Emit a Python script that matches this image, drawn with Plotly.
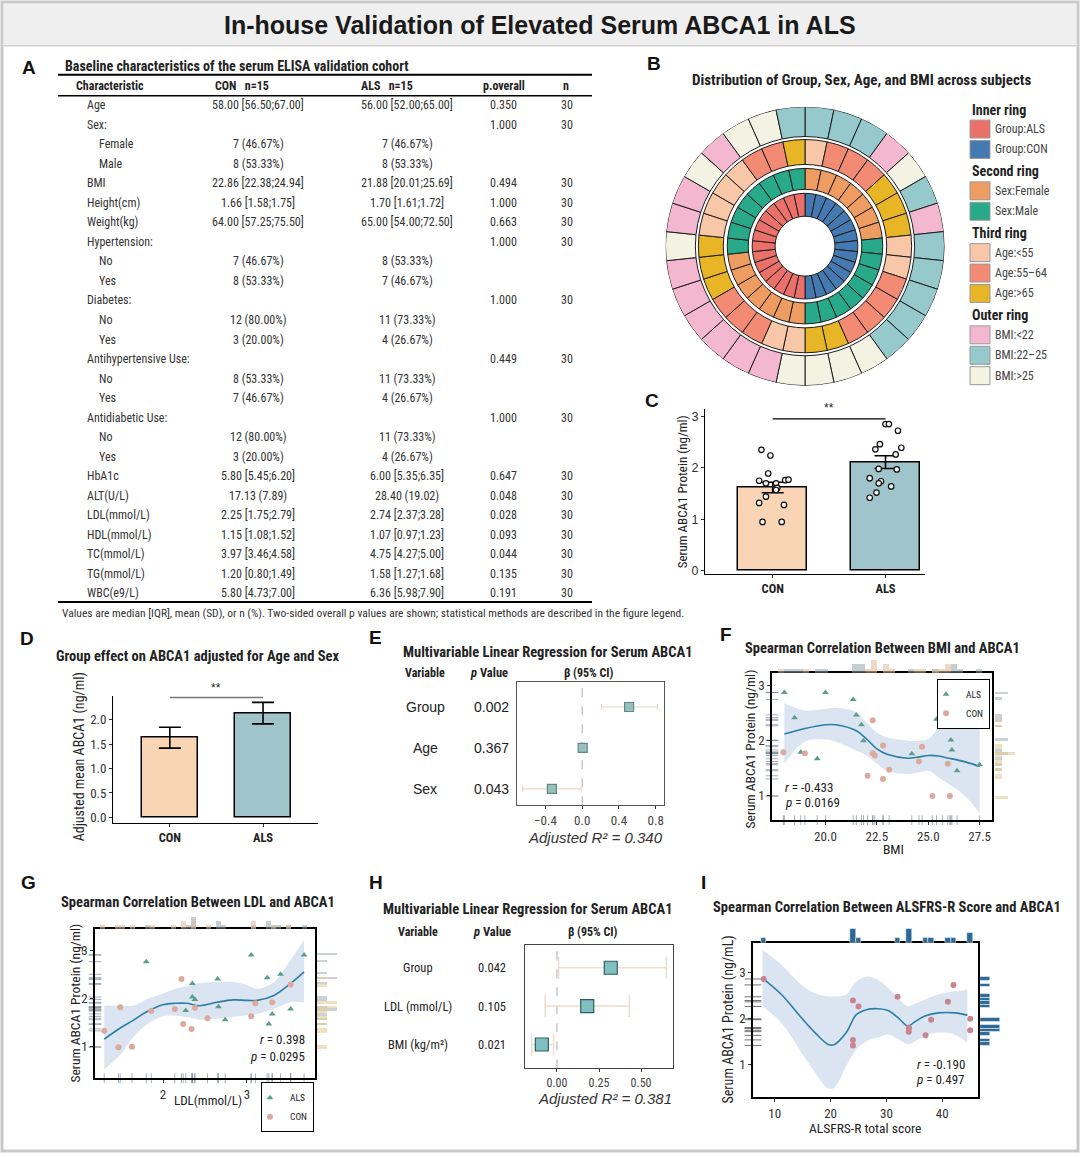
import numpy as np
import plotly.graph_objects as go

W, H = 1080, 1157
def px(x): return x / W
def py(y): return 1 - y / H

SANS = "Liberation Sans, Arial, Helvetica, sans-serif"
NARROW = "Liberation Sans Narrow, Arial Narrow, Roboto Condensed, Liberation Sans, sans-serif"

# ---------------- Panel A: baseline table ----------------
tbl_characteristic = ["Age", "Sex:", "Female", "Male", "BMI", "Height(cm)", "Weight(kg)", "Hypertension:",
                      "No", "Yes", "Diabetes:", "No", "Yes", "Antihypertensive Use:", "No", "Yes",
                      "Antidiabetic Use:", "No", "Yes", "HbA1c", "ALT(U/L)", "LDL(mmol/L)", "HDL(mmol/L)",
                      "TC(mmol/L)", "TG(mmol/L)", "WBC(e9/L)"]
tbl_con = ["58.00 [56.50;67.00]", "", "7 (46.67%)", "8 (53.33%)", "22.86 [22.38;24.94]", "1.66 [1.58;1.75]",
           "64.00 [57.25;75.50]", "", "7 (46.67%)", "8 (53.33%)", "", "12 (80.00%)", "3 (20.00%)", "",
           "8 (53.33%)", "7 (46.67%)", "", "12 (80.00%)", "3 (20.00%)", "5.80 [5.45;6.20]", "17.13 (7.89)",
           "2.25 [1.75;2.79]", "1.15 [1.08;1.52]", "3.97 [3.46;4.58]", "1.20 [0.80;1.49]", "5.80 [4.73;7.00]"]
tbl_als = ["56.00 [52.00;65.00]", "", "7 (46.67%)", "8 (53.33%)", "21.88 [20.01;25.69]", "1.70 [1.61;1.72]",
           "65.00 [54.00;72.50]", "", "8 (53.33%)", "7 (46.67%)", "", "11 (73.33%)", "4 (26.67%)", "",
           "11 (73.33%)", "4 (26.67%)", "", "11 (73.33%)", "4 (26.67%)", "6.00 [5.35;6.35]", "28.40 (19.02)",
           "2.74 [2.37;3.28]", "1.07 [0.97;1.23]", "4.75 [4.27;5.00]", "1.58 [1.27;1.68]", "6.36 [5.98;7.90]"]
tbl_p = ["0.350", "1.000", "", "", "0.494", "1.000", "0.663", "1.000", "", "", "1.000", "", "", "0.449", "", "",
         "1.000", "", "", "0.647", "0.048", "0.028", "0.093", "0.044", "0.135", "0.191"]
tbl_n = ["30" if p else "" for p in tbl_p]
tbl_header = ["Characteristic", "CON\u00a0\u00a0\u00a0n=15", "ALS\u00a0\u00a0\u00a0n=15", "p.overall", "n"]
sub_levels = {"Female", "Male", "No", "Yes"}

# ---------------- Panel B: ring chart ----------------
ring_group = ["CON"] * 15 + ["ALS"] * 15
ring_sex = ["Female"] * 7 + ["Male"] * 8 + ["Female"] * 7 + ["Male"] * 8
ring_age = ["<55", "55–64", "55–64", "55–64", ">65", ">65", ">65", "<55", "<55", "55–64", "55–64", "55–64",
            "55–64", ">65", ">65",
            "<55", "<55", "55–64", "55–64", "55–64", ">65", ">65", ">65", "<55", "<55", "<55", "<55",
            "55–64", "55–64", ">65"]
ring_bmi = ["22–25", "22–25", "22–25", "<22", ">25", "22–25", "<22", "22–25", "22–25", "22–25", "22–25",
            "22–25", ">25", ">25", ">25",
            ">25", "<22", "<22", "<22", "<22", "<22", "<22", ">25", "<22", "<22", ">25", "<22", ">25", ">25",
            "22–25"]

# ---------------- Panel C ----------------
c_con = [2.35, 2.24, 1.89, 1.75, 1.70, 1.76, 1.77, 1.70, 1.61, 1.44, 1.32, 1.28, 0.95, 0.95, 1.57]
c_als = [2.85, 2.85, 2.72, 2.46, 2.36, 2.39, 2.26, 1.98, 1.97, 1.80, 1.74, 1.70, 1.64, 1.52, 1.42]
c_jitter_con = [-0.10, -0.02, -0.04, -0.12, -0.06, 0.11, 0.14, 0.03, 0.04, -0.06, -0.12, 0.10, -0.09, 0.08, 0.03]
c_jitter_als = [0.00, 0.03, 0.11, -0.05, -0.09, 0.14, 0.09, -0.06, 0.10, -0.14, -0.04, -0.06, 0.05, -0.08, -0.14]

# ---------------- Panel D ----------------
d_groups = ["CON", "ALS"]
d_adj_mean = [1.64, 2.14]
d_ci_low = [1.42, 1.92]
d_ci_high = [1.85, 2.36]

# ---------------- Panel E ----------------
e_vars = ["Group", "Age", "Sex"]
e_p = ["0.002", "0.367", "0.043"]
e_beta = [0.51, 0.005, -0.33]
e_lo = [0.21, -0.01, -0.65]
e_hi = [0.82, 0.02, -0.01]
e_r2 = "0.340"

# ---------------- Panel F ----------------
f_bmi_als = [18.0, 18.5, 18.8, 19.6, 20.0, 21.35, 21.5, 21.75, 21.85, 24.2, 25.4, 26.1, 26.15, 26.4, 27.5]
f_abca_als = [2.88, 2.42, 1.79, 1.67, 2.88, 2.75, 2.47, 2.29, 2.00, 1.76, 2.39, 2.01, 1.83, 1.45, 1.56]
f_bmi_con = [17.95, 19.0, 22.05, 22.3, 22.3, 22.4, 22.8, 22.8, 23.1, 24.55, 24.7, 25.2, 25.7, 25.95, 26.05]
f_abca_con = [1.79, 1.77, 1.36, 2.37, 1.77, 1.73, 1.91, 1.30, 1.47, 1.62, 1.89, 0.99, 2.27, 1.58, 0.99]
f_fit_x = [18.0, 19.0, 20.0, 20.5, 21.5, 22.0, 22.5, 23.0, 24.0, 24.5, 25.0, 25.5, 26.0, 26.5, 27.0, 27.5]
f_fit_y = [2.12, 2.22, 2.29, 2.29, 2.18, 2.03, 1.85, 1.75, 1.68, 1.70, 1.73, 1.72, 1.68, 1.64, 1.59, 1.53]
f_fit_hi = [2.68, 2.55, 2.58, 2.60, 2.52, 2.33, 2.15, 2.06, 2.00, 2.00, 2.03, 2.24, 2.42, 2.45, 2.45, 2.33]
f_fit_lo = [1.58, 1.98, 2.02, 1.98, 1.82, 1.73, 1.58, 1.45, 1.39, 1.42, 1.45, 1.33, 1.21, 1.08, 0.91, 0.67]
f_r, f_p = "-0.433", "0.0169"

# ---------------- Panel G ----------------
g_ldl_als = [1.80, 2.27, 2.35, 2.35, 2.38, 2.65, 2.66, 2.74, 3.05, 3.24, 3.26, 3.30, 3.40, 3.52, 3.68]
g_abca_als = [2.76, 1.75, 2.31, 2.03, 1.98, 2.40, 1.83, 1.56, 2.90, 2.43, 1.47, 1.68, 2.50, 1.78, 2.90]
g_ldl_con = [1.30, 1.47, 1.49, 1.63, 1.86, 2.14, 2.22, 2.24, 2.34, 2.38, 2.53, 3.05, 3.10, 3.30, 3.52]
g_abca_con = [1.33, 0.99, 1.82, 1.00, 1.74, 1.78, 2.40, 1.47, 1.37, 1.81, 1.59, 1.63, 1.90, 1.92, 2.29]
g_fit_x = [1.30, 1.50, 1.64, 1.80, 2.00, 2.15, 2.28, 2.44, 2.64, 2.84, 3.00, 3.12, 3.32, 3.52, 3.68]
g_fit_y = [1.16, 1.40, 1.54, 1.72, 1.87, 1.90, 1.90, 1.85, 1.92, 1.97, 1.96, 1.96, 2.06, 2.31, 2.55]
g_fit_hi = [1.85, 1.85, 1.85, 1.98, 2.10, 2.20, 2.25, 2.32, 2.34, 2.34, 2.28, 2.20, 2.34, 2.80, 3.21]
g_fit_lo = [0.53, 0.85, 1.19, 1.45, 1.63, 1.64, 1.61, 1.56, 1.58, 1.62, 1.65, 1.68, 1.78, 1.92, 1.92]
g_r, g_p = "0.398", "0.0295"

# ---------------- Panel H ----------------
h_vars = ["Group", "LDL (mmol/L)", "BMI (kg/m²)"]
h_p = ["0.042", "0.105", "0.021"]
h_beta = [0.32, 0.18, -0.09]
h_lo = [0.01, -0.07, -0.15]
h_hi = [0.65, 0.43, -0.02]
h_r2 = "0.381"

# ---------------- Panel I ----------------
i_score = [8, 24, 25, 24, 24, 32, 34, 34, 34, 37, 38, 41, 42, 45, 45]
i_abca = [2.86, 2.39, 2.26, 1.53, 1.41, 2.47, 1.80, 1.71, 1.78, 1.63, 1.97, 2.36, 2.73, 1.99, 1.74]
i_fit_x = [7.8, 11.2, 14.8, 17.2, 19.6, 20.7, 22.8, 24.6, 26.4, 28.5, 30.3, 32.1, 33.9, 34.8, 36.9, 39.3, 42.2, 44.5]
i_fit_y = [2.88, 2.52, 2.01, 1.69, 1.43, 1.43, 1.69, 2.08, 2.19, 2.21, 2.17, 2.01, 1.83, 1.90, 2.05, 2.12, 2.12, 2.07]
i_fit_hi = [3.49, 3.17, 2.73, 2.55, 2.48, 2.48, 2.52, 2.81, 2.91, 2.84, 2.66, 2.44, 2.26, 2.30, 2.41, 2.52, 2.59, 2.62]
i_fit_lo = [2.26, 1.90, 1.25, 0.82, 0.47, 0.49, 0.96, 1.32, 1.50, 1.58, 1.65, 1.55, 1.43, 1.48, 1.61, 1.69, 1.65, 1.47]
i_r, i_p = "-0.190", "0.497"

# ---------------- styles ----------------
PEACH = "#f9d5b6"
TEALBAR = "#9fc4c9"
ALS_PT = "#5b9c8d"
CON_PT = "#dca99d"
FIT = "#2b7ea6"
BAND = "rgba(176,198,226,0.45)"

ring_colors = {
    "ALS": "#ec706a", "CON": "#4479b2",
    "Female": "#ee9c61", "Male": "#27a98a",
    "<55": "#f8c7a8", "55–64": "#f38b74", ">65": "#e7b526",
    "<22": "#f3b8d0", "22–25": "#95c9cc", ">25": "#f4f2e3",
}

fig = go.Figure()
ann = []
shapes = []

def text(x, y, s, size=12, color="#222", family=SANS, xanchor="center", yanchor="middle", bold=False,
         italic=False, angle=0, xref="paper", yref="paper"):
    if bold:
        s = "<b>" + s + "</b>"
    if italic:
        s = "<i>" + s + "</i>"
    ann.append(dict(x=px(x) if xref == "paper" else x, y=py(y) if yref == "paper" else y,
                    xref=xref, yref=yref, text=s, showarrow=False, textangle=angle,
                    font=dict(size=size, color=color, family=family), xanchor=xanchor, yanchor=yanchor))

def hline(x0, x1, y, width=1.5, color="black"):
    shapes.append(dict(type="line", xref="paper", yref="paper", x0=px(x0), x1=px(x1), y0=py(y), y1=py(y),
                       line=dict(color=color, width=width)))

# ---------------- frame & main title ----------------
shapes.append(dict(type="rect", xref="paper", yref="paper", x0=px(4), x1=px(1076), y0=py(46), y1=py(4),
                   fillcolor="#efefef", line=dict(width=0), layer="below"))
hline(4, 1076, 46, width=1.5, color="#cfcfcf")
shapes.append(dict(type="rect", xref="paper", yref="paper", x0=px(2), x1=px(1078), y0=py(1155), y1=py(2),
                   line=dict(color="#c9c9c9", width=3)))
text(540, 25, "In-house Validation of Elevated Serum ABCA1 in ALS", size=25, bold=True, color="#1a1a1a")

# panel letters
for lab, (lx, ly) in {"A": (20, 68), "B": (645, 64), "C": (643, 402), "D": (18, 641), "E": (367, 640),
                      "F": (718, 637), "G": (19, 886), "H": (367, 886), "I": (699, 886)}.items():
    text(lx, ly, lab, size=19, bold=True, color="#111", xanchor="left")

# ---------------- Panel A ----------------
text(63, 66, "Baseline characteristics of the serum ELISA validation cohort", size=14, bold=True,
     family=NARROW, xanchor="left")
hline(58, 592, 75, width=2)
hline(58, 592, 96, width=1.5)
hline(58, 592, 604, width=2)
hdr_x = [(74, "left"), (213, "left"), (359, "left"), (504, "center"), (566, "center")]
for (hx, anc), h in zip(hdr_x, tbl_header):
    text(hx, 86, h, size=12, family=NARROW, bold=True, xanchor=anc)
for i, name in enumerate(tbl_characteristic):
    y = 105.5 + i * 19.6
    text(97 if name in sub_levels else 85, y, name, size=12, family=NARROW, xanchor="left", color="#333")
    if tbl_con[i]:
        text(258, y, tbl_con[i], size=12, family=NARROW, color="#333")
    if tbl_als[i]:
        text(407, y, tbl_als[i], size=12, family=NARROW, color="#333")
    if tbl_p[i]:
        text(503, y, tbl_p[i], size=12, family=NARROW, color="#333")
    if tbl_n[i]:
        text(567, y, tbl_n[i], size=12, family=NARROW, color="#333")
text(60, 615, "Values are median [IQR], mean (SD), or n (%). Two-sided overall p values are shown; "
     "statistical methods are described in the figure legend.", size=11.5, family=NARROW, xanchor="left",
     color="#333")

# ---------------- Panel B ----------------
n_sub = len(ring_group)
seg = 360.0 / n_sub
theta = [i * seg + seg / 2 for i in range(n_sub)]
rings = [(ring_group, 30, 23), (ring_sex, 57, 21), (ring_age, 82, 25), (ring_bmi, 110, 30)]
for vals, base, thick in rings:
    fig.add_trace(go.Barpolar(theta=theta, r=[thick] * n_sub, base=[base] * n_sub, width=[seg] * n_sub,
                              marker=dict(color=[ring_colors[v] for v in vals],
                                          line=dict(color="#1e1e1e", width=1)),
                              showlegend=False, hoverinfo="skip", subplot="polar"))
text(861, 80, "Distribution of Group, Sex, Age, and BMI across subjects", size=15, bold=True, family=NARROW)
legend_b = [("Inner ring", [("Group:ALS", "ALS"), ("Group:CON", "CON")]),
            ("Second ring", [("Sex:Female", "Female"), ("Sex:Male", "Male")]),
            ("Third ring", [("Age:<55", "<55"), ("Age:55–64", "55–64"), ("Age:>65", ">65")]),
            ("Outer ring", [("BMI:<22", "<22"), ("BMI:22–25", "22–25"), ("BMI:>25", ">25")])]
ly = 110
for title, items in legend_b:
    text(970, ly, title, size=14, bold=True, family=NARROW, xanchor="left", color="#222")
    ly += 19.5
    for lab, key in items:
        shapes.append(dict(type="rect", xref="paper", yref="paper", x0=px(970), x1=px(990),
                           y0=py(ly + 9), y1=py(ly - 9), fillcolor=ring_colors[key],
                           line=dict(color="#999", width=1)))
        text(993, ly, lab, size=12, family=NARROW, xanchor="left", color="#444")
        ly += 20.5
    ly += 1.5

# ---------------- Panel C ----------------
c_means = [float(np.mean(c_con)), float(np.mean(c_als))]
c_sem = [float(np.std(c_con, ddof=1) / np.sqrt(len(c_con))), float(np.std(c_als, ddof=1) / np.sqrt(len(c_als)))]
fig.add_trace(go.Bar(x=[0, 1], y=c_means, width=0.61, marker=dict(color=[PEACH, TEALBAR],
                     line=dict(color="black", width=1.5)),
                     error_y=dict(type="data", array=c_sem, color="black", thickness=1.6, width=11),
                     xaxis="x", yaxis="y", showlegend=False, hoverinfo="skip"))
for k, (vals, jit) in enumerate([(c_con, c_jitter_con), (c_als, c_jitter_als)]):
    fig.add_trace(go.Scatter(x=[k + j for j in jit], y=vals, mode="markers",
                             marker=dict(symbol="circle", size=5.5, color="#f2f2f2",
                                         line=dict(color="#111", width=1.2)),
                             xaxis="x", yaxis="y", showlegend=False, hoverinfo="skip"))
c_sig = max(max(c_con), max(c_als)) + 0.1
shapes.append(dict(type="line", xref="x", yref="y", x0=0, x1=1, y0=c_sig, y1=c_sig,
                   line=dict(color="black", width=1.2)))
ann.append(dict(x=0.5, y=c_sig + 0.04, xref="x", yref="y", text="**", showarrow=False,
                font=dict(size=12, color="#222"), yanchor="bottom"))
text(682, 494, "Serum ABCA1 Protein (ng/ml)", size=13, family=NARROW, angle=-90, color="#222")

# ---------------- Panel D ----------------
fig.add_trace(go.Bar(x=[0, 1], y=d_adj_mean, width=0.6, marker=dict(color=[PEACH, TEALBAR],
                     line=dict(color="black", width=1.5)),
                     error_y=dict(type="data", symmetric=False,
                                  array=[h - m for h, m in zip(d_ci_high, d_adj_mean)],
                                  arrayminus=[m - l for m, l in zip(d_adj_mean, d_ci_low)],
                                  color="black", thickness=1.6, width=11),
                     xaxis="x2", yaxis="y2", showlegend=False, hoverinfo="skip"))
d_sig = max(d_ci_high) + 0.1
shapes.append(dict(type="line", xref="x2", yref="y2", x0=0, x1=1, y0=d_sig, y1=d_sig,
                   line=dict(color="#777", width=1.5)))
ann.append(dict(x=0.5, y=d_sig + 0.02, xref="x2", yref="y2", text="**", showarrow=False,
                font=dict(size=12, color="#222"), yanchor="bottom"))
text(197, 659, "Group effect on ABCA1 adjusted for Age and Sex", size=14.5, bold=True, family=NARROW)
text(79, 760, "Adjusted mean ABCA1 (ng/ml)", size=14, family=NARROW, angle=-90, color="#222")

# ---------------- Forest plots (E, H) ----------------
def forest(vars_, pvals, beta, lo, hi, xa, ya, msize, mcol, mline, cap, ccol, cwidth,
           var_x, p_x, fs):
    rows = list(range(len(vars_), 0, -1))
    fig.add_trace(go.Scatter(x=beta, y=rows, mode="markers",
                             marker=dict(symbol="square", size=msize, color=mcol, line=dict(color=mline, width=1.2)),
                             error_x=dict(type="data", symmetric=False,
                                          array=[h - b for h, b in zip(hi, beta)],
                                          arrayminus=[b - l for b, l in zip(beta, lo)],
                                          color=ccol, thickness=cwidth, width=cap),
                             xaxis=xa, yaxis=ya, showlegend=False, hoverinfo="skip"))
    shapes.append(dict(type="line", xref=xa, yref=ya + " domain", x0=0, x1=0, y0=0, y1=1,
                       line=dict(color="#bbbbbb", width=1.2, dash="dash"), layer="below"))
    for r, v, p in zip(rows, vars_, pvals):
        ann.append(dict(x=px(var_x), y=r, xref="paper", yref=ya, text=v, showarrow=False,
                        font=dict(size=fs, color="#222", family=SANS if fs > 13 else NARROW)))
        ann.append(dict(x=px(p_x), y=r, xref="paper", yref=ya, text=p, showarrow=False,
                        font=dict(size=fs, color="#222", family=SANS if fs > 13 else NARROW)))

forest(e_vars, e_p, e_beta, e_lo, e_hi, "x3", "y3", 9, "#9bbfbc", "#5d8a87", 3, "#ecd7c6", 1.2,
       425, 491, 14)
text(425, 675, "Variable", size=12, bold=True, family=NARROW)
text(489, 675, "<i>p</i> Value", size=12.5, bold=True, family=NARROW)
text(589, 675, "β (95% CI)", size=12, bold=True, family=NARROW)
text(547, 655, "Multivariable Linear Regression for Serum ABCA1", size=14.5, bold=True, family=NARROW)
text(595, 840, "Adjusted R² = " + e_r2, size=15, italic=True, color="#333")

forest(h_vars, h_p, h_beta, h_lo, h_hi, "x10", "y10", 13, "#80c0c3", "#2f5e60", 11, "#efdfd2", 1.6,
       418, 492, 12.5)
text(418, 935, "Variable", size=12, bold=True, family=NARROW)
text(492, 935, "<i>p</i> Value", size=12.5, bold=True, family=NARROW)
text(593, 935, "β (95% CI)", size=12, bold=True, family=NARROW)
text(527, 913, "Multivariable Linear Regression for Serum ABCA1", size=14.5, bold=True, family=NARROW)
text(605, 1102, "Adjusted R² = " + h_r2, size=15, italic=True, color="#333")

# ---------------- Scatter panels (F, G, I) ----------------
def band(xs, lo, hi, fit, xa, ya):
    fig.add_trace(go.Scatter(x=xs, y=lo, mode="lines", line=dict(width=0, shape="spline"), xaxis=xa, yaxis=ya,
                             showlegend=False, hoverinfo="skip"))
    fig.add_trace(go.Scatter(x=xs, y=hi, mode="lines", line=dict(width=0, shape="spline"), fill="tonexty",
                             fillcolor=BAND, xaxis=xa, yaxis=ya, showlegend=False, hoverinfo="skip"))
    fig.add_trace(go.Scatter(x=xs, y=fit, mode="lines", line=dict(color=FIT, width=1.6, shape="spline"),
                             xaxis=xa, yaxis=ya, showlegend=False, hoverinfo="skip"))

def rugs(xv, yv, col, xa, ya, xmin, ymin):
    fig.add_trace(go.Scatter(x=xv, y=[ymin] * len(xv), mode="markers", cliponaxis=False,
                             marker=dict(symbol="line-ns", size=7, line=dict(color=col, width=1)),
                             xaxis=xa, yaxis=ya, showlegend=False, hoverinfo="skip"))
    fig.add_trace(go.Scatter(x=[xmin] * len(yv), y=yv, mode="markers", cliponaxis=False,
                             marker=dict(symbol="line-ew", size=9, line=dict(color=col, width=1)),
                             xaxis=xa, yaxis=ya, showlegend=False, hoverinfo="skip"))

F_XR, F_YR = [17.4, 28.1], [0.55, 3.24]
G_XR, G_YR = [1.19, 3.81], [0.35, 3.44]
I_XR, I_YR = [6.1, 46.4], [0.28, 3.65]

# F
band(f_fit_x, f_fit_lo, f_fit_hi, f_fit_y, "x4", "y4")
rugs(f_bmi_als + f_bmi_con, f_abca_als + f_abca_con, "rgba(90,110,130,0.55)", "x4", "y4", F_XR[0], F_YR[0])
fig.add_trace(go.Scatter(x=f_bmi_als, y=f_abca_als, mode="markers", name="ALS", legend="legend2",
                         marker=dict(symbol="triangle-up", size=6, color=ALS_PT), xaxis="x4", yaxis="y4"))
fig.add_trace(go.Scatter(x=f_bmi_con, y=f_abca_con, mode="markers", name="CON", legend="legend2",
                         marker=dict(symbol="circle", size=6, color=CON_PT), xaxis="x4", yaxis="y4"))
for vals, col in [(f_bmi_als, "rgba(150,165,172,0.55)"), (f_bmi_con, "rgba(226,190,160,0.6)")]:
    fig.add_trace(go.Histogram(x=vals, xbins=dict(start=17.4, end=28.1, size=0.3), marker_color=col,
                               xaxis="x5", yaxis="y5", showlegend=False, hoverinfo="skip"))
for vals, col in [(f_abca_als, "rgba(150,165,172,0.5)"), (f_abca_con, "rgba(226,205,150,0.6)")]:
    fig.add_trace(go.Histogram(y=vals, ybins=dict(start=0.55, end=3.24, size=0.05), marker_color=col,
                               orientation="h", xaxis="x6", yaxis="y6", showlegend=False, hoverinfo="skip"))
text(883, 651, "Spearman Correlation Between BMI and ABCA1", size=14.5, bold=True, family=NARROW)
text(893, 852, "BMI", size=13.5, family=NARROW)
text(750, 752, "Serum ABCA1 Protein (ng/ml)", size=13.5, family=NARROW, angle=-90)
text(783, 790, "<i>r</i> = " + f_r, size=13, family=NARROW, xanchor="left")
text(783, 805, "<i>p</i> = " + f_p, size=13, family=NARROW, xanchor="left")

# G
band(g_fit_x, g_fit_lo, g_fit_hi, g_fit_y, "x7", "y7")
rugs(g_ldl_als + g_ldl_con, g_abca_als + g_abca_con, "rgba(90,110,130,0.55)", "x7", "y7", G_XR[0], G_YR[0])
fig.add_trace(go.Scatter(x=g_ldl_als, y=g_abca_als, mode="markers", name="ALS", legend="legend3",
                         marker=dict(symbol="triangle-up", size=6, color=ALS_PT), xaxis="x7", yaxis="y7"))
fig.add_trace(go.Scatter(x=g_ldl_con, y=g_abca_con, mode="markers", name="CON", legend="legend3",
                         marker=dict(symbol="circle", size=6, color=CON_PT), xaxis="x7", yaxis="y7"))
for vals, col in [(g_ldl_als, "rgba(150,165,172,0.55)"), (g_ldl_con, "rgba(226,190,160,0.6)")]:
    fig.add_trace(go.Histogram(x=vals, xbins=dict(start=1.19, end=3.81, size=0.06), marker_color=col,
                               xaxis="x8", yaxis="y8", showlegend=False, hoverinfo="skip"))
for vals, col in [(g_abca_als, "rgba(150,165,172,0.5)"), (g_abca_con, "rgba(226,205,150,0.6)")]:
    fig.add_trace(go.Histogram(y=vals, ybins=dict(start=0.35, end=3.44, size=0.05), marker_color=col,
                               orientation="h", xaxis="x9", yaxis="y9", showlegend=False, hoverinfo="skip"))
text(198, 906, "Spearman Correlation Between LDL and ABCA1", size=14.5, bold=True, family=NARROW)
text(208, 1104, "LDL(mmol/L)", size=13, family=NARROW)
text(75, 1007, "Serum ABCA1 Protein (ng/ml)", size=13.5, family=NARROW, angle=-90)
text(307, 1043, "<i>r</i> = " + g_r, size=13, family=NARROW, xanchor="right")
text(307, 1060, "<i>p</i> = " + g_p, size=13, family=NARROW, xanchor="right")

# I
band(i_fit_x, i_fit_lo, i_fit_hi, i_fit_y, "x11", "y11")
fig.add_trace(go.Scatter(x=[I_XR[0]] * len(i_abca), y=i_abca, mode="markers", cliponaxis=False,
                         marker=dict(symbol="line-ew", size=12, line=dict(color="rgba(60,60,60,0.7)", width=1)),
                         xaxis="x11", yaxis="y11", showlegend=False, hoverinfo="skip"))
fig.add_trace(go.Scatter(x=i_score, y=i_abca, mode="markers", showlegend=False,
                         marker=dict(symbol="circle", size=6, color="#c9858f"), xaxis="x11", yaxis="y11"))
fig.add_trace(go.Histogram(x=i_score, xbins=dict(start=6.5, end=46.5, size=1), marker_color="#2f6a97",
                           marker_line=dict(color="white", width=0.5),
                           xaxis="x12", yaxis="y12", showlegend=False, hoverinfo="skip"))
fig.add_trace(go.Histogram(y=i_abca, ybins=dict(start=0.28, end=3.65, size=0.075), marker_color="#2f6a97",
                           marker_line=dict(color="white", width=0.5),
                           orientation="h", xaxis="x13", yaxis="y13", showlegend=False, hoverinfo="skip"))
text(887, 911, "Spearman Correlation Between ALSFRS-R Score and ABCA1", size=14.5, bold=True, family=NARROW)
text(865, 1132, "ALSFRS-R total score", size=13.5, family=NARROW)
text(728, 1023, "Serum ABCA1 Protein (ng/mL)", size=14, family=NARROW, angle=-90)
text(967, 1068, "<i>r</i> = " + i_r, size=13, family=NARROW, xanchor="right")
text(967, 1083, "<i>p</i> = " + i_p, size=13, family=NARROW, xanchor="right")

# ---------------- axes ----------------
def dom(x0, x1, y0, y1):
    return [px(x0), px(x1)], [py(y1), py(y0)]

TICKF = dict(size=12, color="#333", family=NARROW)
def axis(domain, rng, **kw):
    d = dict(domain=domain, range=rng, showgrid=False, zeroline=False, showline=True, linecolor="black",
             linewidth=1, ticks="outside", ticklen=3, tickcolor="#333", tickfont=TICKF, fixedrange=True)
    d.update(kw)
    return d

def hidden(domain, **kw):
    d = dict(domain=domain, visible=False, showgrid=False, zeroline=False, fixedrange=True)
    d.update(kw)
    return d

lay = {}
xd, yd = dom(705, 925, 410, 576)
lay["xaxis"] = axis(xd, [-0.6, 1.35], tickvals=[0, 1], ticktext=["<b>CON</b>", "<b>ALS</b>"],
                    tickfont=dict(size=12.5, color="#222", family=NARROW), anchor="y")
lay["yaxis"] = axis(yd, [-0.06, 3.15], tickvals=[0, 1, 2, 3], anchor="x",
                    tickfont=dict(size=12.5, color="#333", family=SANS))
xd, yd = dom(113, 318, 698, 826)
lay["xaxis2"] = axis(xd, [-0.61, 1.59], tickvals=[0, 1], ticktext=["<b>" + g + "</b>" for g in d_groups],
                     tickfont=dict(size=12.5, color="#222", family=NARROW), anchor="y2")
lay["yaxis2"] = axis(yd, [-0.12, 2.5], tickvals=[0, 0.5, 1, 1.5, 2], tickformat=".1f", anchor="x2",
                     tickfont=dict(size=13, color="#333", family=NARROW))
xd, yd = dom(517, 664, 684, 808)
lay["xaxis3"] = axis(xd, [-0.71, 0.89], tickvals=[-0.4, 0, 0.4, 0.8], tickformat=".1f", mirror=True,
                     linecolor="#555", anchor="y3", tickfont=dict(size=13, color="#444", family=NARROW))
lay["yaxis3"] = axis(yd, [0.6, 3.62], showticklabels=False, ticks="", mirror=True, linecolor="#555", anchor="x3")
# F
xd, yd = dom(772, 992, 675, 823)
lay["xaxis4"] = axis(xd, F_XR, tickvals=[20, 22.5, 25, 27.5], tickformat=".1f", mirror=True, linewidth=1.5,
                     anchor="y4", tickfont=dict(size=13, color="#333", family=NARROW))
lay["yaxis4"] = axis(yd, F_YR, tickvals=[1, 2, 3], mirror=True, linewidth=1.5, anchor="x4",
                     tickfont=dict(size=13, color="#333", family=NARROW))
xd, yd = dom(772, 992, 661, 675)
lay["xaxis5"] = hidden(xd, range=F_XR, anchor="y5")
lay["yaxis5"] = hidden(yd, anchor="x5")
xd, yd = dom(995, 1016, 675, 823)
lay["xaxis6"] = hidden(xd, anchor="y6")
lay["yaxis6"] = hidden(yd, range=F_YR, anchor="x6")
# G
xd, yd = dom(95, 315, 932, 1082)
lay["xaxis7"] = axis(xd, G_XR, tickvals=[2, 3], mirror=True, linewidth=1.5, anchor="y7",
                     tickfont=dict(size=13, color="#333", family=NARROW))
lay["yaxis7"] = axis(yd, G_YR, tickvals=[1, 2, 3], mirror=True, linewidth=1.5, anchor="x7",
                     tickfont=dict(size=13, color="#333", family=NARROW))
xd, yd = dom(95, 315, 919, 932)
lay["xaxis8"] = hidden(xd, range=G_XR, anchor="y8")
lay["yaxis8"] = hidden(yd, anchor="x8")
xd, yd = dom(317, 338, 932, 1082)
lay["xaxis9"] = hidden(xd, anchor="y9")
lay["yaxis9"] = hidden(yd, range=G_YR, anchor="x9")
# H
xd, yd = dom(525, 673, 948, 1072)
lay["xaxis10"] = axis(xd, [-0.19, 0.69], tickvals=[0, 0.25, 0.5], tickformat=".2f", mirror=True,
                      linecolor="#444", anchor="y10", tickfont=dict(size=12, color="#444", family=NARROW))
lay["yaxis10"] = axis(yd, [0.38, 3.6], showticklabels=False, ticks="", mirror=True, linecolor="#444",
                      anchor="x10")
# I
xd, yd = dom(753, 978, 946, 1101)
lay["xaxis11"] = axis(xd, I_XR, tickvals=[10, 20, 30, 40], mirror=True, linewidth=1.5, anchor="y11",
                      tickfont=dict(size=13, color="#333", family=NARROW))
lay["yaxis11"] = axis(yd, I_YR, tickvals=[1, 2, 3], mirror=True, linewidth=1.5, anchor="x11",
                      tickfont=dict(size=13, color="#333", family=NARROW))
xd, yd = dom(753, 978, 931, 946)
lay["xaxis12"] = hidden(xd, range=I_XR, anchor="y12")
lay["yaxis12"] = hidden(yd, anchor="x12")
xd, yd = dom(980, 1001, 946, 1101)
lay["xaxis13"] = hidden(xd, anchor="y13")
lay["yaxis13"] = hidden(yd, range=I_YR, anchor="x13")

LEG = dict(xanchor="right", yanchor="top", bordercolor="black", borderwidth=1, bgcolor="white",
           font=dict(size=9.5, family=NARROW), tracegroupgap=0, itemwidth=30, indentation=-12)
fig.update_layout(
    width=W, height=H, margin=dict(l=0, r=0, t=0, b=0, pad=0),
    paper_bgcolor="white", plot_bgcolor="rgba(0,0,0,0)",
    font=dict(family=SANS, size=12, color="#222"),
    barmode="overlay", bargap=0,
    polar=dict(domain=dict(x=[px(665), px(945)], y=[py(387), py(107)]),
               radialaxis=dict(visible=False, range=[0, 140]),
               angularaxis=dict(visible=False, rotation=90, direction="clockwise"),
               bgcolor="rgba(0,0,0,0)", barmode="overlay", hole=0),
    legend2=dict(x=px(990), y=py(681), **LEG),
    legend3=dict(x=px(314), y=py(1086), **LEG),
    showlegend=True,
    annotations=ann, shapes=shapes,
    **lay,
)
fig.write_html("out.html", config={"displayModeBar": False},
               post_script="document.body.style.margin='0px';document.body.style.padding='0px';")
